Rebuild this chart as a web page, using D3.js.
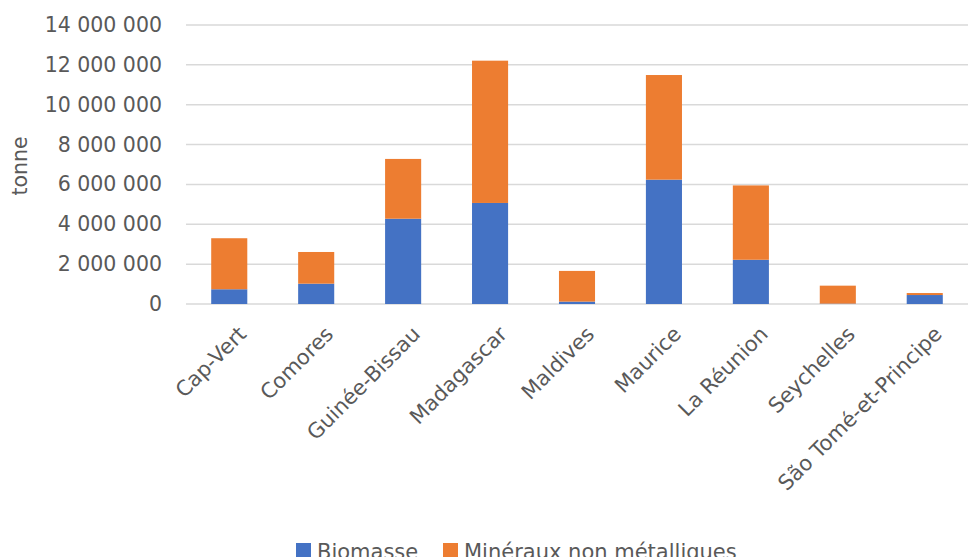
<!DOCTYPE html>
<meta charset="utf-8">
<title>Biomasse et minéraux</title>
<script src="https://d3js.org/d3.v7.min.js"></script>
<style>
  body { margin: 0; background: #fff; }
  text { font-family: "DejaVu Sans", Verdana, sans-serif; fill: #595959; }
</style>
<body>
</body>
<script>
var countries = ["Cap-Vert", "Comores", "Guinée-Bissau", "Madagascar", "Maldives",
                 "Maurice", "La Réunion", "Seychelles", "São Tomé-et-Principe"];
var biomasse = [740000, 1020000, 4280000, 5070000, 120000, 6240000, 2220000, 20000, 450000];
var mineraux = [2560000, 1590000, 3000000, 7140000, 1540000, 5250000, 3730000, 900000, 100000];
var seriesNames = ["Biomasse", "Minéraux non métalliques"];
var seriesColors = ["#4472c4", "#ed7d31"];
var yTicks = [0, 2000000, 4000000, 6000000, 8000000, 10000000, 12000000, 14000000];

var width = 973, height = 557;
var margin = {left: 186, right: 5, top: 25, bottom: 253};

var rows = countries.map(function (c, i) {
  return {country: c, Biomasse: biomasse[i], "Minéraux non métalliques": mineraux[i]};
});
var stack = d3.stack().keys(seriesNames)(rows);

var svg = d3.select("body").append("svg")
            .attr("width", width)
            .attr("height", height);

var x = d3.scaleBand()
          .domain(countries)
          .range([margin.left, width - margin.right])
          .paddingInner(0.585)
          .paddingOuter(0.29);
var y = d3.scaleLinear()
          .domain([0, 14000000])
          .range([height - margin.bottom, margin.top]);

var fmt = function (d) { return d3.format(",")(d).replace(/,/g, " "); };

// gridlines
svg.append("g").selectAll("line")
   .data(yTicks)
   .enter().append("line")
   .attr("x1", margin.left)
   .attr("x2", width - margin.right)
   .attr("y1", function (d) { return y(d); })
   .attr("y2", function (d) { return y(d); })
   .attr("stroke", "#d9d9d9")
   .attr("stroke-width", 1.5);

// y axis labels
var yAxis = svg.append("g")
   .attr("transform", "translate(" + (margin.left - 24) + ",0)")
   .call(d3.axisLeft(y).tickValues(yTicks).tickFormat(fmt).tickSize(0).tickPadding(0));
yAxis.select(".domain").remove();
yAxis.selectAll("text").style("font-size", "20.5px").attr("fill", "#595959");

svg.append("text")
   .attr("transform", "translate(27," + 166 + ") rotate(-90)")
   .attr("text-anchor", "middle")
   .style("font-size", "20.5px")
   .text("tonne");

// bars
svg.append("g").selectAll("g")
   .data(stack)
   .enter().append("g")
   .attr("fill", function (d, i) { return seriesColors[i]; })
   .selectAll("rect")
   .data(function (d) { return d; })
   .enter().append("rect")
   .attr("x", function (d) { return x(d.data.country); })
   .attr("width", x.bandwidth())
   .attr("y", function (d) { return y(d[1]); })
   .attr("height", function (d) { return y(d[0]) - y(d[1]); });

// category labels
svg.append("g").selectAll("text")
   .data(countries)
   .enter().append("text")
   .attr("transform", function (d) {
     return "translate(" + (x(d) + x.bandwidth() / 2 + 8) + "," + (y(0) + 21) + ") rotate(-45)";
   })
   .attr("text-anchor", "end")
   .attr("dy", "0.7em")
   .style("font-size", "21px")
   .text(function (d) { return d; });

// legend
var legend = svg.append("g").attr("transform", "translate(296,543)");
var legendX = [0, 147];
var items = legend.selectAll("g")
   .data(seriesNames)
   .enter().append("g")
   .attr("transform", function (d, i) { return "translate(" + legendX[i] + ",0)"; });
items.append("rect")
   .attr("width", 15).attr("height", 15)
   .attr("fill", function (d, i) { return seriesColors[i]; });
items.append("text")
   .attr("x", 21).attr("y", 16)
   .style("font-size", "21px")
   .text(function (d) { return d; });
</script>
